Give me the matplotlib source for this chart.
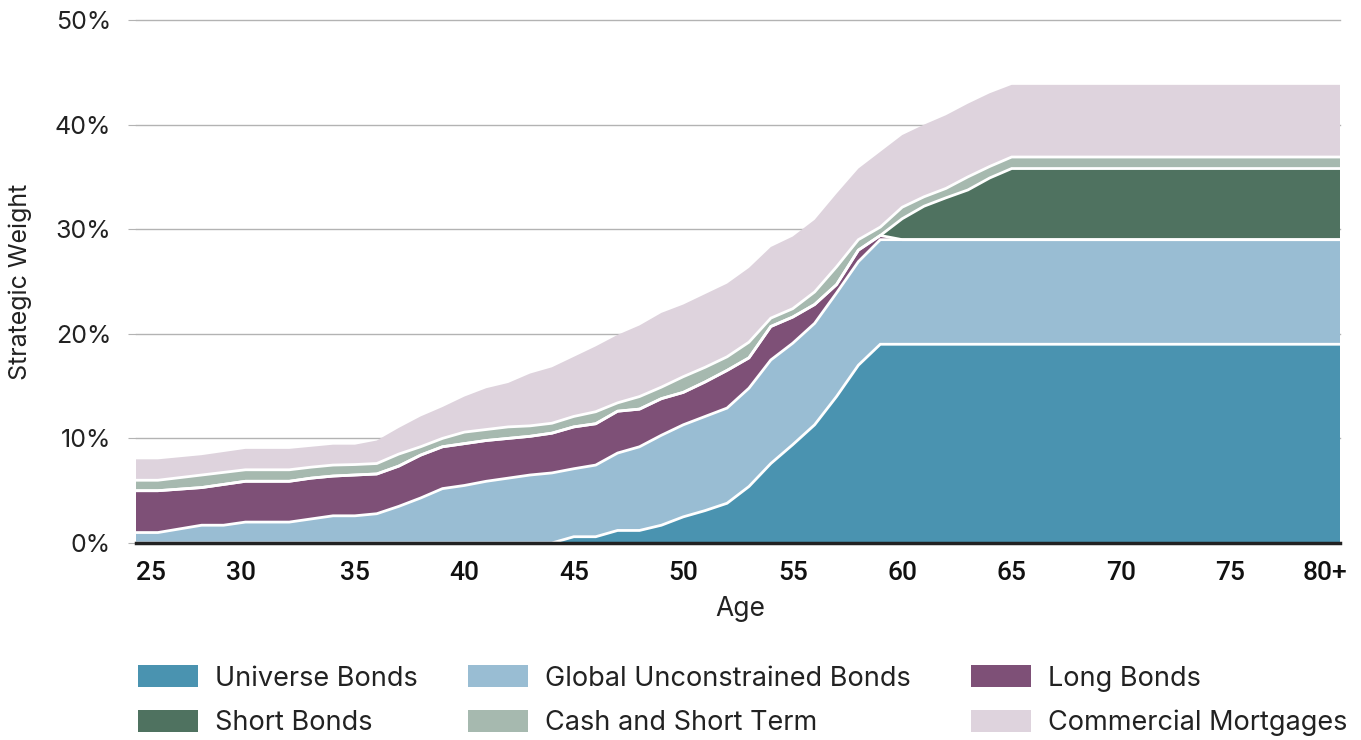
import matplotlib
matplotlib.use("Agg")
import matplotlib.pyplot as plt
from matplotlib.patches import Patch
from matplotlib.transforms import ScaledTranslation
import numpy as np

# ages (80 stands for "80+"; allocation is flat from 65 on)
ages = [25, 26, 27, 28, 29, 30, 31, 32, 33, 34, 35, 36, 37, 38, 39, 40, 41, 42, 43, 44,
        45, 46, 47, 48, 49, 50, 51, 52, 53, 54, 55, 56, 57, 58, 59, 60, 61, 62, 63, 64, 65, 80]

# strategic weights in %
universe = [0, 0, 0, 0, 0, 0, 0, 0, 0, 0, 0, 0, 0, 0, 0, 0, 0, 0, 0, 0,
            0.6, 0.6, 1.2, 1.2, 1.7, 2.5, 3.1, 3.8, 5.4, 7.6, 9.4, 11.3, 14.0, 17.0, 19, 19, 19, 19, 19, 19, 19, 19]
global_unc = [1.0, 1.0, 1.35, 1.7, 1.7, 2.0, 2.0, 2.0, 2.3, 2.6, 2.6, 2.8, 3.5, 4.3, 5.2, 5.5, 5.9, 6.2, 6.5, 6.7,
              6.5, 6.85, 7.4, 8.0, 8.6, 8.8, 9.0, 9.1, 9.4, 9.9, 9.7, 9.7, 9.9, 9.9, 10, 10, 10, 10, 10, 10, 10, 10]
long_bonds = [4.0, 4.0, 3.8, 3.6, 3.9, 3.9, 3.9, 3.9, 3.9, 3.8, 3.9, 3.8, 3.85, 4.1, 4.0, 4.0, 3.9, 3.8, 3.7, 3.8,
              4.0, 3.95, 4.0, 3.6, 3.5, 3.1, 3.3, 3.6, 2.9, 3.2, 2.5, 1.8, 0.8, 1.1, 0.4, 0, 0, 0, 0, 0, 0, 0]
short_bonds = [0, 0, 0, 0, 0, 0, 0, 0, 0, 0, 0, 0, 0, 0, 0, 0, 0, 0, 0, 0,
               0, 0, 0, 0, 0, 0, 0, 0, 0, 0, 0, 0, 0, 0, 0, 2.0, 3.2, 4.0, 4.75, 5.9, 6.8, 6.8]
cash = [1.0, 1.0, 1.1, 1.2, 1.15, 1.1, 1.1, 1.1, 1.05, 1.05, 1.0, 1.0, 1.15, 0.8, 0.8, 1.1, 1.05, 1.1, 1.0, 0.95,
        1.0, 1.15, 0.8, 1.2, 1.1, 1.5, 1.4, 1.3, 1.5, 0.8, 0.8, 1.2, 1.7, 1.0, 0.8, 1.1, 0.9, 0.9, 1.25, 1.1, 1.1, 1.1]
mortgages = [2.0, 2.0, 1.95, 1.9, 1.95, 2.0, 2.0, 2.0, 1.95, 1.95, 1.9, 2.2, 2.5, 2.9, 3.0, 3.4, 3.95, 4.2, 5.0, 5.35,
             5.7, 6.25, 6.5, 6.8, 7.1, 6.9, 7.0, 7.0, 7.1, 6.8, 6.9, 6.9, 7.0, 6.8, 7.2, 6.9, 6.9, 7.0, 7.0, 7.0, 6.9, 6.9]

labels = ['Universe Bonds', 'Global Unconstrained Bonds', 'Long Bonds',
          'Short Bonds', 'Cash and Short Term', 'Commercial Mortgages']
colors = ['#4a93b0', '#99bdd3', '#7e5077', '#4f7260', '#a6b9af', '#ded3dd']
xticks = [25, 30, 35, 40, 45, 50, 55, 60, 65, 70, 75, 80]
xticklabels = ['25', '30', '35', '40', '45', '50', '55', '60', '65', '70', '75', '80+']

font = 'Inter'

fig = plt.figure(figsize=(13.61, 7.40), dpi=100)
ax = fig.add_axes([136 / 1361, 1 - 543 / 740, 1204 / 1361, 523 / 740])

layers = [universe, global_unc, long_bonds, short_bonds, cash, mortgages]
ax.stackplot(ages, *layers, colors=colors, linewidth=0, zorder=2)

# white separators between layers
tops = np.cumsum(np.array(layers), axis=0)
for top in tops[:-1]:
    ax.plot(ages, top, color='white', lw=2, zorder=3, solid_joinstyle='miter')

for y in [10, 20, 30, 40, 50]:
    ax.axhline(y, color='#b3b3b3', lw=1, zorder=1, clip_on=False)

ax.set_xlim(25, 80)
ax.set_ylim(0, 50)
for s in ['top', 'right', 'left']:
    ax.spines[s].set_visible(False)
ax.spines['bottom'].set_color('#222222')
ax.spines['bottom'].set_linewidth(2.5)
ax.spines['bottom'].set_zorder(5)

ax.set_yticks([0, 10, 20, 30, 40, 50])
ax.set_yticklabels(['0%', '10%', '20%', '30%', '40%', '50%'], fontsize=18, family=font, color='#222222')
ax.tick_params(axis='y', length=6, color='#b3b3b3', pad=12)

ax.set_xticks(xticks)
ax.set_xticklabels(xticklabels, fontsize=19, family='Roboto', fontweight='medium', color='#111111')
ax.tick_params(axis='x', length=0, pad=13)
xl = ax.get_xticklabels()
xl[0].set_ha('left')
xl[-1].set_ha('right')
xl[-1].set_transform(xl[-1].get_transform() + ScaledTranslation(7 / 100, 0, fig.dpi_scale_trans))
xl[1].set_transform(xl[1].get_transform() + ScaledTranslation(-4 / 100, 0, fig.dpi_scale_trans))

ax.set_ylabel('Strategic Weight', fontsize=18, family=font, color='#222222')
ax.yaxis.set_label_coords(-0.0864, 0.5)
ax.set_xlabel('Age', fontsize=19, family=font, color='#222222')
ax.xaxis.set_label_coords(0.5017, -0.102)

# legend: three columns placed by hand
cols = [(0, 3), (1, 4), (2, 5)]
xpos = [138, 468, 971]
for (a, b), xp in zip(cols, xpos):
    handles = [Patch(facecolor=colors[a], label=labels[a]), Patch(facecolor=colors[b], label=labels[b])]
    fig.legend(handles=handles, loc='upper left', bbox_to_anchor=(xp / 1361, 1 - 665 / 740),
               frameon=False, prop={'family': font, 'size': 19.5}, handlelength=2.2, handleheight=0.89,
               handletextpad=0.63, labelspacing=0.68, borderaxespad=0, borderpad=0, labelcolor='#222222')

fig.savefig('out.png', dpi=100)
